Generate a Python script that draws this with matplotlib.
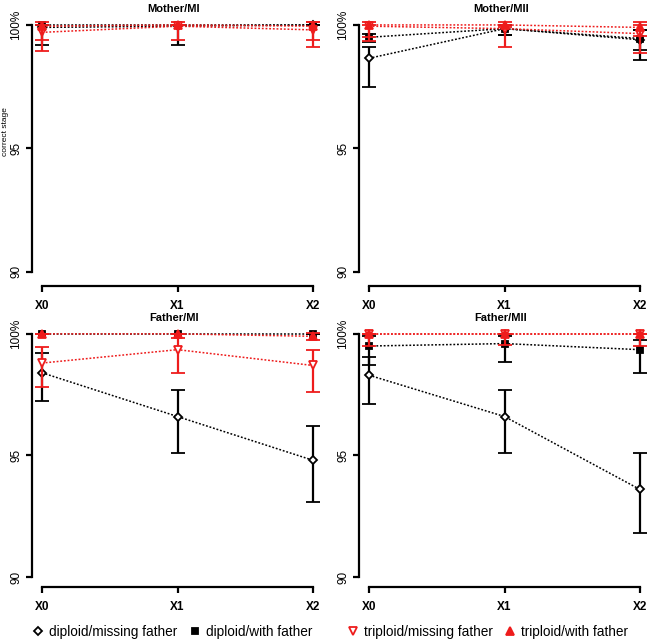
import matplotlib.pyplot as plt
from matplotlib.lines import Line2D

plt.rcParams['font.family'] = ['Liberation Sans', 'DejaVu Sans']

groups = ['X0', 'X1', 'X2']
panel_titles = ['Mother/MI', 'Mother/MII', 'Father/MI', 'Father/MII']
series_names = ['diploid/missing father', 'diploid/with father',
                'triploid/missing father', 'triploid/with father']

# values (% correct stage), lower and upper confidence limits, per panel
# order of series: diploid/missing, diploid/with, triploid/missing, triploid/with
mother_mi_val = [[99.9, 99.95, 100.0], [100.0, 100.0, 100.0], [99.7, 99.95, 99.8], [99.95, 100.0, 99.95]]
mother_mi_low = [[99.2, 99.2, 100.0], [100.0, 100.0, 100.0], [98.95, 99.4, 99.1], [99.4, 100.0, 99.4]]
mother_mi_high = [[100.0, 100.0, 100.0], [100.0, 100.0, 100.0], [100.0, 100.1, 100.1], [100.1, 100.0, 100.1]]

mother_mii_val = [[98.65, 99.85, 99.4], [99.5, 99.85, 99.45], [99.95, 99.85, 99.65], [100.0, 100.0, 99.9]]
mother_mii_low = [[97.5, 99.6, 98.6], [99.3, 99.6, 99.0], [99.35, 99.1, 98.85], [99.5, 99.9, 99.55]]
mother_mii_high = [[99.1, 100.0, 99.8], [99.65, 100.0, 99.8], [100.0, 100.0, 100.0], [100.1, 100.1, 100.1]]

father_mi_val = [[98.4, 96.6, 94.8], [100.0, 100.0, 100.0], [98.8, 99.35, 98.7], [100.0, 100.0, 99.9]]
father_mi_low = [[97.25, 95.1, 93.1], [100.0, 100.0, 100.0], [97.8, 98.4, 97.6], [100.0, 100.0, 99.75]]
father_mi_high = [[99.2, 97.7, 96.2], [100.0, 100.0, 100.0], [99.45, 99.85, 99.35], [100.0, 100.0, 100.05]]

father_mii_val = [[98.3, 96.6, 93.6], [99.5, 99.6, 99.35], [100.0, 100.0, 100.0], [100.0, 100.0, 100.0]]
father_mii_low = [[97.1, 95.1, 91.8], [98.7, 98.85, 98.4], [99.5, 99.55, 99.5], [100.0, 100.0, 100.0]]
father_mii_high = [[99.05, 97.7, 95.1], [99.9, 99.9, 99.75], [100.0, 100.0, 100.0], [100.0, 100.0, 100.0]]

panels = [
    (mother_mi_val, mother_mi_low, mother_mi_high),
    (mother_mii_val, mother_mii_low, mother_mii_high),
    (father_mi_val, father_mi_low, father_mi_high),
    (father_mii_val, father_mii_low, father_mii_high),
]

colors = ['black', 'black', '#ee1c1c', '#ee1c1c']
markers = ['D', 's', 'v', '^']
facecolors = ['white', 'black', 'white', '#ee1c1c']
msizes = [4.5, 4.5, 6, 6]

W, H = 647, 640
fig = plt.figure(figsize=(W / 100, H / 100), dpi=100)

# axes boxes in pixels: (left, top, right, bottom)
boxes = [(32, 20, 316, 286), (359, 20, 643, 286), (32, 329, 316, 587), (359, 329, 643, 587)]
ylims = [(89.43, 100.2), (89.43, 100.2), (89.59, 100.2), (89.59, 100.2)]

for i, (box, (val, low, high)) in enumerate(zip(boxes, panels)):
    l, t, r, b = box
    ax = fig.add_axes([l / W, 1 - b / H, (r - l) / W, (b - t) / H])
    x = list(range(len(groups)))
    for s in [0, 1, 2, 3]:
        yerr = [[v - lo for v, lo in zip(val[s], low[s])],
                [hi - v for v, hi in zip(val[s], high[s])]]
        ax.errorbar(x, val[s], yerr=yerr, color=colors[s], ls=(0, (1.2, 1.2)), lw=1.1,
                    marker=markers[s], mfc=facecolors[s], mec=colors[s], mew=1.3, ms=msizes[s],
                    elinewidth=1.6, capsize=5, capthick=1.6, clip_on=False, zorder=3 + s)
    ax.set_xlim(-0.074, 2.022)
    ax.set_ylim(*ylims[i])
    ax.spines['top'].set_visible(False)
    ax.spines['right'].set_visible(False)
    ax.spines['left'].set_bounds(90, 100)
    ax.spines['bottom'].set_bounds(0, 2)
    ax.spines['left'].set_linewidth(1.6)
    ax.spines['bottom'].set_linewidth(1.6)
    ax.set_yticks([90, 95, 100])
    ax.set_yticklabels(['90', '95', '100%'], rotation=90, va='center', fontsize=8.5)
    ax.set_xticks(x)
    ax.set_xticklabels(groups, fontsize=8.5, fontweight='bold')
    ax.tick_params(axis='both', width=1.6, length=4, pad=3)
    ax.tick_params(axis='x', pad=6)
    ax.set_title(panel_titles[i], fontsize=8, fontweight='bold', pad=6)
    if i == 0:
        ax.set_ylabel('correct stage', fontsize=6)
        ax.yaxis.set_label_coords(-0.082, 0.58)

# legends under each column
handles = [Line2D([], [], ls='none', marker=markers[s], mfc=facecolors[s], mec=colors[s],
                  mew=1.3, ms=msizes[s]) for s in range(4)]
fig.legend(handles[:2], series_names[:2], loc='center', bbox_to_anchor=(172 / W, 1 - 632 / H),
           ncol=2, frameon=False, fontsize=9.8, handletextpad=0.3, columnspacing=0.8,
           handlelength=1.0, borderaxespad=0)
fig.legend(handles[2:], series_names[2:], loc='center', bbox_to_anchor=(487 / W, 1 - 632 / H),
           ncol=2, frameon=False, fontsize=9.8, handletextpad=0.3, columnspacing=0.8,
           handlelength=1.0, borderaxespad=0)

fig.savefig('out.png', dpi=100)
